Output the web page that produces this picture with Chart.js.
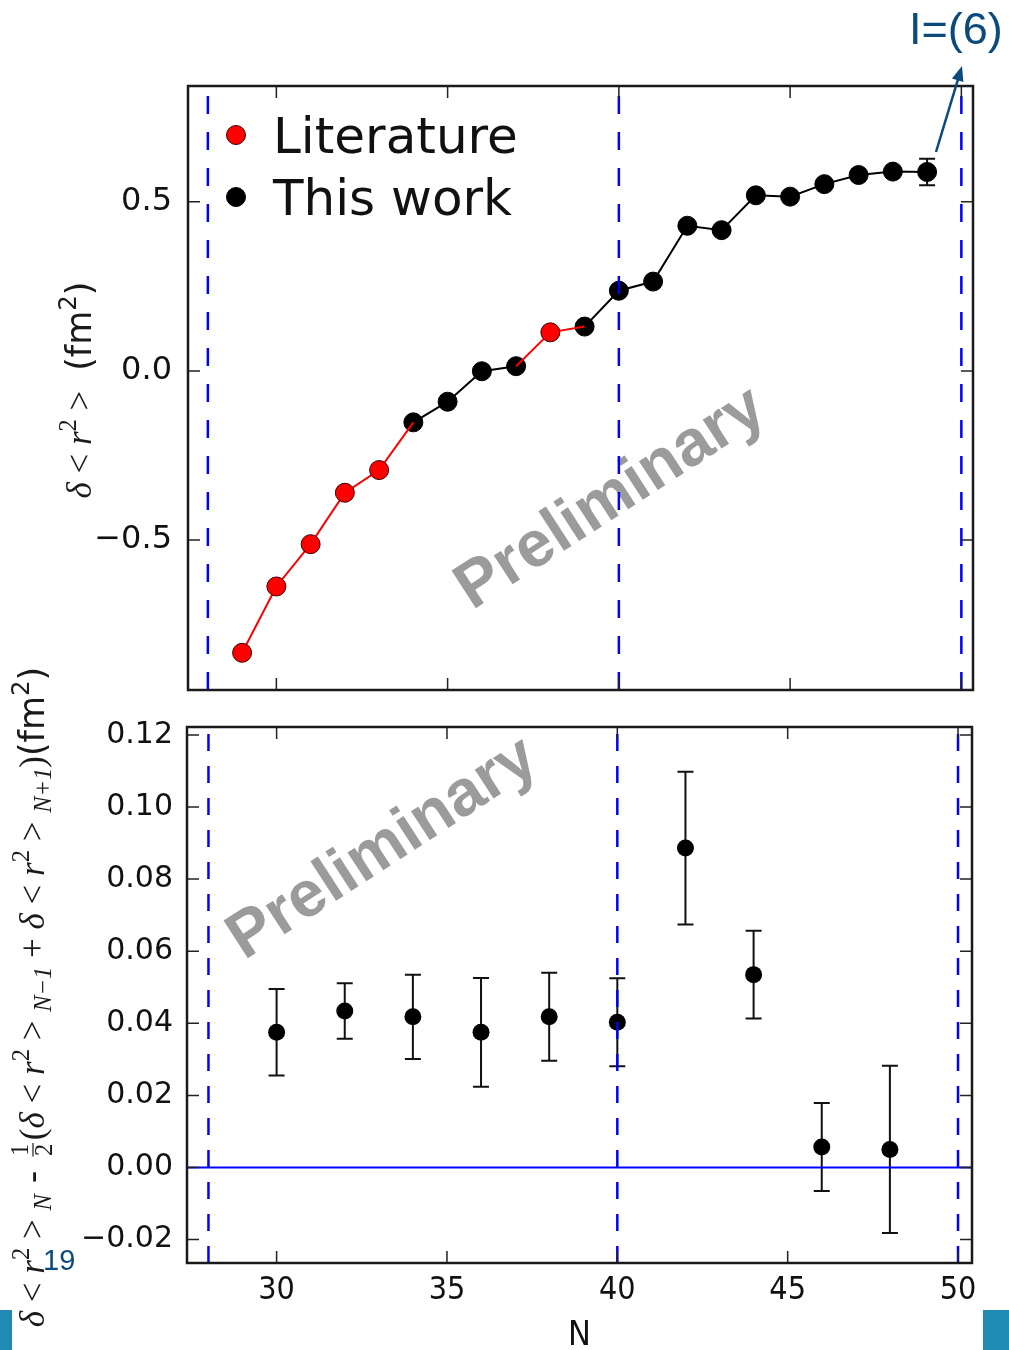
<!DOCTYPE html>
<html>
<head>
<meta charset="utf-8">
<script src="https://cdn.jsdelivr.net/npm/chart.js@4.4.1/dist/chart.umd.min.js"></script>
<style>
  html, body { margin: 0; padding: 0; background: #fff; }
  #page { position: relative; width: 1009px; height: 1350px; overflow: hidden; }
  canvas { position: absolute; left: 0; top: 0; }
  .tag { position: absolute; font-family: "Liberation Sans", Arial, sans-serif; color: #0b4a7c; line-height: 1; }
  #ann { left: 909px; top: 6px; font-size: 45px; }
  #pg { left: 43px; top: 1246px; font-size: 29px; }
  .bar { position: absolute; top: 1310px; height: 40px; background: #208bb2; }
</style>
</head>
<body>
<div id="page">
  <canvas id="topChart" width="1009" height="1350"></canvas>
  <canvas id="bottomChart" width="1009" height="1350"></canvas>
  <div class="tag" id="ann">I=(6)</div>
  <div class="tag" id="pg">19</div>
  <div class="bar" style="left:0;width:12px"></div>
  <div class="bar" style="left:983px;width:26px"></div>
</div>
<script>
// top panel: charge radii differences vs N
const topN = [29, 30, 31, 32, 33, 34, 35, 36, 37, 38, 39, 40, 41, 42, 43, 44, 45, 46, 47, 48, 49];
const literature = [-0.833, -0.637, -0.512, -0.360, -0.293, -0.152, null, null, 0.014, 0.114, 0.131,
  null, null, null, null, null, null, null, null, null, null];
const thisWork = [null, null, null, null, null, -0.152, -0.091, -0.001, 0.014, null, 0.131,
  0.237, 0.264, 0.429, 0.416, 0.519, 0.515, 0.552, 0.579, 0.589, 0.588];
const thisWorkErr = [null, null, null, null, null, null, null, null, null, null, null,
  null, null, null, null, null, null, null, null, null, 0.039];

// bottom panel: odd-even staggering
const diffN = [30, 32, 34, 36, 38, 40, 42, 44, 46, 48];
const diffVal = [0.0375, 0.0434, 0.0418, 0.0375, 0.0418, 0.0403, 0.0886, 0.0535, 0.0057, 0.0050];
const diffErr = [0.0120, 0.0077, 0.0117, 0.0151, 0.0122, 0.0122, 0.0212, 0.0122, 0.0122, 0.0232];

const magicN = [28, 40, 50];
const xTicks = [30, 35, 40, 45, 50];
const xTickLabels = ['30', '35', '40', '45', '50'];
const topYTicks = [-0.5, 0, 0.5];
const topYLabels = ['\u22120.5', '0.0', '0.5'];
const botYTicks = [-0.02, 0, 0.02, 0.04, 0.06, 0.08, 0.10, 0.12];
const botYLabels = ['\u22120.02', '0.00', '0.02', '0.04', '0.06', '0.08', '0.10', '0.12'];
const zeroLine = [0];

Chart.defaults.font.family = '"DejaVu Sans"';
Chart.defaults.color = '#111';

function richText(ctx, segs, cx, cy, size, color) {
  ctx.save();
  ctx.translate(cx, cy);
  ctx.rotate(-Math.PI / 2);
  ctx.fillStyle = color;
  ctx.strokeStyle = color;
  ctx.textBaseline = 'alphabetic';
  const items = segs.map(([t, st, pos]) => {
    const fs = pos ? size * 0.7 : size;
    const fam = st === 's' ? '"DejaVu Sans"' : '"Liberation Serif"';
    const font = (st === 'i' ? 'italic ' : '') + fs + 'px ' + fam;
    ctx.font = font;
    let w;
    if (pos === '/') {
      const [n, d] = t.split('/');
      w = Math.max(ctx.measureText(n).width, ctx.measureText(d).width) + size * 0.2;
    } else {
      w = ctx.measureText(t).width;
    }
    return { t, font, pos, w, fs };
  });
  const total = items.reduce((s, it) => s + it.w, 0);
  let x = -total / 2;
  const yb = size * 0.3;
  items.forEach(it => {
    ctx.font = it.font;
    if (it.pos === '/') {
      const [n, d] = it.t.split('/');
      ctx.textAlign = 'center';
      const mx = x + it.w / 2;
      ctx.fillText(n, mx, yb - size * 0.45);
      ctx.fillText(d, mx, yb + size * 0.25);
      ctx.lineWidth = 1.2;
      ctx.beginPath();
      ctx.moveTo(x + size * 0.08, yb - size * 0.3);
      ctx.lineTo(x + it.w - size * 0.08, yb - size * 0.3);
      ctx.stroke();
      ctx.textAlign = 'left';
    } else {
      const dy = it.pos === '^' ? -size * 0.42 : it.pos === '_' ? size * 0.22 : 0;
      ctx.textAlign = 'left';
      ctx.fillText(it.t, x, yb + dy);
    }
    x += it.w;
  });
  ctx.restore();
}

const deco = {
  id: 'deco',
  beforeDatasetsDraw(chart, args, o) {
    const { ctx, scales: { x, y } } = chart;
    if (o.mark) {
      ctx.save();
      ctx.translate(o.mark.x, o.mark.y);
      ctx.rotate(-33 * Math.PI / 180);
      ctx.font = 'bold 65px "Liberation Sans"';
      ctx.fillStyle = '#9b9b9b';
      ctx.textAlign = 'center';
      ctx.textBaseline = 'middle';
      ctx.fillText('Preliminary', 0, 0);
      ctx.restore();
    }
    // error bars under the markers
    chart.data.datasets.forEach(ds => {
      if (!ds.errors) return;
      ctx.save();
      ctx.strokeStyle = '#111';
      ctx.lineWidth = 2;
      ds.data.forEach((p, i) => {
        const e = ds.errors[i];
        if (e == null || p.y == null) return;
        const px = x.getPixelForValue(p.x);
        const y1 = y.getPixelForValue(p.y + e);
        const y2 = y.getPixelForValue(p.y - e);
        ctx.beginPath();
        ctx.moveTo(px, y1); ctx.lineTo(px, y2);
        ctx.moveTo(px - o.cap, y1); ctx.lineTo(px + o.cap, y1);
        ctx.moveTo(px - o.cap, y2); ctx.lineTo(px + o.cap, y2);
        ctx.stroke();
      });
      ctx.restore();
    });
  },
  afterDatasetsDraw(chart, args, o) {
    const { ctx, chartArea: a, scales: { x, y } } = chart;
    ctx.save();
    ctx.beginPath();
    ctx.rect(a.left, a.top, a.right - a.left, a.bottom - a.top);
    ctx.clip();
    ctx.strokeStyle = '#0000ff';
    ctx.lineWidth = 2.5;
    ctx.setLineDash(o.dash);
    magicN.forEach(n => {
      const px = x.getPixelForValue(n);
      ctx.beginPath();
      ctx.moveTo(px, a.bottom);
      ctx.lineTo(px, a.top);
      ctx.stroke();
    });
    ctx.setLineDash([]);
    if (o.zero) {
      ctx.lineWidth = 2;
      zeroLine.forEach(v => {
        const py = y.getPixelForValue(v);
        ctx.beginPath();
        ctx.moveTo(a.left, py);
        ctx.lineTo(a.right, py);
        ctx.stroke();
      });
    }
    ctx.restore();

    // frame and inward ticks
    ctx.save();
    ctx.strokeStyle = '#222';
    ctx.lineWidth = 1.5;
    const tl = 12;
    ctx.beginPath();
    x.ticks.forEach(t => {
      const px = x.getPixelForValue(t.value);
      ctx.moveTo(px, a.bottom); ctx.lineTo(px, a.bottom - tl);
      ctx.moveTo(px, a.top); ctx.lineTo(px, a.top + tl);
    });
    y.ticks.forEach(t => {
      const py = y.getPixelForValue(t.value);
      ctx.moveTo(a.left, py); ctx.lineTo(a.left + tl, py);
      ctx.moveTo(a.right, py); ctx.lineTo(a.right - tl, py);
    });
    ctx.stroke();
    ctx.lineWidth = 2.5;
    ctx.strokeStyle = '#1a1a1a';
    ctx.strokeRect(a.left, a.top, a.right - a.left, a.bottom - a.top);
    ctx.restore();
  },
  afterDraw(chart, args, o) {
    const ctx = chart.ctx;
    if (o.title) richText(ctx, o.title.segs, o.title.x, o.title.y, o.title.size, '#1a1a1a');
    if (o.legend) {
      ctx.save();
      chart.data.datasets.forEach((ds, i) => {
        const ly = o.legend.y[i];
        ctx.beginPath();
        ctx.arc(o.legend.x, ly, 9.5, 0, Math.PI * 2);
        ctx.fillStyle = ds.pointBackgroundColor;
        ctx.fill();
        ctx.lineWidth = 1;
        ctx.strokeStyle = ds.pointBorderColor;
        ctx.stroke();
        ctx.fillStyle = '#111';
        ctx.font = '50px "DejaVu Sans"';
        ctx.textBaseline = 'alphabetic';
        ctx.fillText(ds.label, o.legend.tx, o.legend.base[i]);
      });
      ctx.restore();
    }
    if (o.arrow) {
      const [x1, y1, x2, y2] = o.arrow;
      const ang = Math.atan2(y2 - y1, x2 - x1);
      ctx.save();
      ctx.strokeStyle = '#0b4a7c';
      ctx.fillStyle = '#0b4a7c';
      ctx.lineWidth = 2.5;
      ctx.beginPath();
      ctx.moveTo(x1, y1);
      ctx.lineTo(x2 - 10 * Math.cos(ang), y2 - 10 * Math.sin(ang));
      ctx.stroke();
      ctx.beginPath();
      ctx.moveTo(x2, y2);
      ctx.lineTo(x2 - 15 * Math.cos(ang) + 6 * Math.sin(ang), y2 - 15 * Math.sin(ang) - 6 * Math.cos(ang));
      ctx.lineTo(x2 - 15 * Math.cos(ang) - 6 * Math.sin(ang), y2 - 15 * Math.sin(ang) + 6 * Math.cos(ang));
      ctx.closePath();
      ctx.fill();
      ctx.restore();
    }
  }
};

function fixedTicks(values) {
  return scale => { scale.ticks = values.map(v => ({ value: v })); };
}

new Chart(document.getElementById('topChart'), {
  type: 'scatter',
  data: {
    datasets: [
      {
        label: 'Literature',
        data: topN.map((n, i) => ({ x: n, y: literature[i] })),
        showLine: true,
        spanGaps: false,
        borderColor: '#ff0000',
        borderWidth: 2,
        pointRadius: literature.map((v, i) => (thisWork[i] === null ? 9.5 : 0)),
        pointBackgroundColor: '#ff0000',
        pointBorderColor: '#3a0000',
        pointBorderWidth: 1
      },
      {
        label: 'This work',
        data: topN.map((n, i) => ({ x: n, y: thisWork[i] })),
        errors: thisWorkErr,
        showLine: true,
        spanGaps: false,
        borderColor: '#000',
        borderWidth: 2,
        pointRadius: 9.5,
        pointBackgroundColor: '#000',
        pointBorderColor: '#000',
        pointBorderWidth: 1
      }
    ]
  },
  options: {
    responsive: false,
    animation: false,
    events: [],
    layout: { padding: { top: 86, right: 36, bottom: 0, left: 0 } },
    plugins: {
      legend: { display: false },
      tooltip: { enabled: false },
      deco: {
        cap: 8,
        dash: [18, 18],
        mark: { x: 611, y: 499 },
        legend: { x: 236, y: [135, 197], tx: 273, base: [153, 215] },
        title: {
          x: 80, y: 390, size: 35,
          segs: [['\u03b4', 'i'], [' < ', 'm'], ['r', 'i'], ['2', 'm', '^'], [' > ', 'm'],
                 [' (fm', 's'], ['2', 's', '^'], [')', 's']]
        },
        arrow: [936, 152, 962, 66]
      }
    },
    scales: {
      x: {
        type: 'linear', min: 27.42, max: 50.34,
        grid: { display: false, drawTicks: false },
        border: { display: false },
        ticks: { display: false, autoSkip: false },
        afterBuildTicks: fixedTicks(xTicks),
        afterFit: s => { s.height = 660; }
      },
      y: {
        type: 'linear', min: -0.943, max: 0.842,
        grid: { display: false, drawTicks: false },
        border: { display: false },
        ticks: { padding: 16, autoSkip: false, font: { size: 32 }, callback: (v, i) => topYLabels[i] },
        afterBuildTicks: fixedTicks(topYTicks),
        afterFit: s => { s.width = 188; }
      }
    }
  },
  plugins: [deco]
});

new Chart(document.getElementById('bottomChart'), {
  type: 'scatter',
  data: {
    datasets: [
      {
        label: 'staggering',
        data: diffN.map((n, i) => ({ x: n, y: diffVal[i] })),
        errors: diffErr,
        pointRadius: 8.5,
        pointBackgroundColor: '#000',
        pointBorderColor: '#000',
        pointBorderWidth: 0
      }
    ]
  },
  options: {
    responsive: false,
    animation: false,
    events: [],
    layout: { padding: { top: 727, right: 37, bottom: 0, left: 0 } },
    plugins: {
      legend: { display: false },
      tooltip: { enabled: false },
      deco: {
        cap: 8,
        dash: [17, 15],
        zero: true,
        mark: { x: 383, y: 849 },
        title: {
          x: 33, y: 997, size: 35,
          segs: [['\u03b4', 'i'], [' < ', 'm'], ['r', 'i'], ['2', 'm', '^'], [' > ', 'm'], ['N', 'i', '_'],
                 [' - ', 's'], ['1/2', 'm', '/'], ['(', 'm'],
                 ['\u03b4', 'i'], [' < ', 'm'], ['r', 'i'], ['2', 'm', '^'], [' > ', 'm'], ['N\u22121', 'i', '_'],
                 [' + ', 'm'],
                 ['\u03b4', 'i'], [' < ', 'm'], ['r', 'i'], ['2', 'm', '^'], [' > ', 'm'], ['N+1', 'i', '_'],
                 [')', 'm'], ['(fm', 's'], ['2', 's', '^'], [')', 's']]
        }
      }
    },
    scales: {
      x: {
        type: 'linear', min: 27.37, max: 50.41,
        grid: { display: false, drawTicks: false },
        border: { display: false },
        ticks: {
          padding: 8, autoSkip: false, maxRotation: 0,
          font: { family: '"DejaVu Sans Condensed"', size: 32 },
          callback: (v, i) => xTickLabels[i]
        },
        title: {
          display: true, text: 'N', color: '#111',
          font: { family: '"DejaVu Sans Condensed"', size: 34, lineHeight: 0.8 },
          padding: { top: 0, bottom: 0 }
        },
        afterBuildTicks: fixedTicks(xTicks),
        afterFit: s => { s.height = 87; }
      },
      y: {
        type: 'linear', min: -0.0265, max: 0.1222,
        grid: { display: false, drawTicks: false },
        border: { display: false },
        ticks: { padding: 14, autoSkip: false, font: { size: 30 }, callback: (v, i) => botYLabels[i] },
        afterBuildTicks: fixedTicks(botYTicks),
        afterFit: s => { s.width = 187; }
      }
    }
  },
  plugins: [deco]
});
</script>
</body>
</html>
